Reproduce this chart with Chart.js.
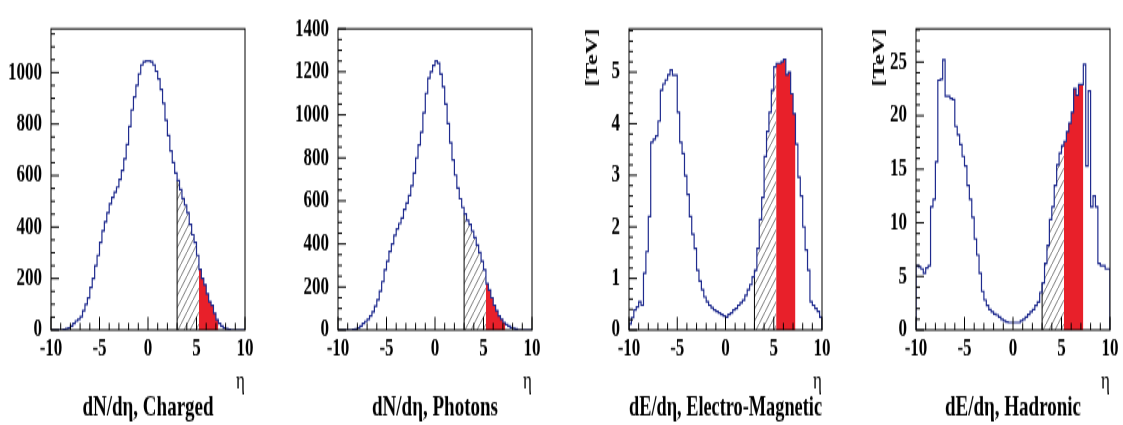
<!DOCTYPE html>
<html>
<head>
<meta charset="utf-8">
<title>dN/dη and dE/dη distributions</title>
<script src="https://cdn.jsdelivr.net/npm/chart.js@4.4.1/dist/chart.umd.min.js"></script>
<style>
    html, body { margin: 0; padding: 0; background: #fff; }
    body { width: 1123px; height: 425px; overflow: hidden; position: relative; }
    /* the reference plots are stretched vertically, so each panel is drawn short and scaled */
    .panel { position: absolute; top: 0; transform: scaleY(1.5); transform-origin: 0 0; }
    .panel canvas { display: block; }
</style>
</head>
<body>
<div class="panel" style="left:1px"><canvas id="chargedChart" width="258" height="284"></canvas></div>
<div class="panel" style="left:288px"><canvas id="photonChart" width="258" height="284"></canvas></div>
<div class="panel" style="left:579px"><canvas id="emChart" width="257" height="284"></canvas></div>
<div class="panel" style="left:866px"><canvas id="hadChart" width="257" height="284"></canvas></div>
<script>
// histogram bins: 80 bins of width 0.25 from eta = -10 to 10
const binLow = -10, binHigh = 10, binWidth = 0.25;
const etaTicks = [-10, -5, 0, 5, 10];

const charged = [0, 0, 0, 0, 0, 3, 5, 8, 15, 25, 35, 42, 52, 75, 100, 125, 165, 200, 250, 290,
    340, 385, 420, 455, 490, 515, 535, 555, 585, 620, 665, 720, 790, 855, 905, 950, 995, 1030, 1042, 1045,
    1045, 1042, 1030, 1005, 975, 935, 880, 815, 755, 695, 650, 610, 580, 545, 510, 485, 455, 410, 370, 340,
    290, 235, 200, 176, 140, 110, 95, 65, 40, 25, 15, 8, 5, 3, 0, 0, 0, 0, 0, 0];
const chargedTicks = [0, 200, 400, 600, 800, 1000];

const photons = [0, 0, 0, 0, 0, 0, 2, 5, 10, 18, 30, 40, 50, 65, 85, 110, 140, 180, 225, 280,
    320, 365, 400, 440, 470, 495, 520, 560, 590, 625, 670, 730, 800, 860, 920, 1010, 1100, 1170, 1200, 1230,
    1250, 1240, 1190, 1130, 1050, 960, 870, 790, 720, 660, 610, 570, 540, 510, 490, 460, 430, 395, 360, 320,
    280, 215, 185, 150, 115, 90, 65, 50, 35, 25, 18, 12, 8, 4, 0, 0, 0, 0, 0, 0];
const photonTicks = [0, 200, 400, 600, 800, 1000, 1200, 1400];

const emEnergy = [0.12, 0.24, 0.39, 0.45, 0.55, 0.48, 1.10, 1.52, 2.2, 3.64, 3.7, 3.76, 4.05, 4.65, 4.77, 4.85, 4.95, 5.04, 4.94, 4.94,
    4.22, 3.64, 3.42, 2.99, 2.63, 2.2, 1.86, 1.58, 1.16, 0.95, 0.78, 0.64, 0.55, 0.48, 0.43, 0.39, 0.36, 0.33, 0.30, 0.27,
    0.25, 0.30, 0.33, 0.39, 0.42, 0.48, 0.53, 0.58, 0.67, 0.78, 0.88, 1.03, 1.16, 1.58, 2.14, 2.57, 3.36, 3.85, 4.22, 4.65,
    5.1, 5.17, 5.17, 5.2, 5.25, 4.95, 5.0, 4.58, 4.19, 3.6, 2.96, 2.6, 2.0, 1.55, 1.16, 0.55, 0.48, 0.42, 0.36, 0.25];
const emTicks = [0, 1, 2, 3, 4, 5];

const hadEnergy = [6.0, 5.9, 5.7, 5.3, 5.8, 6.0, 11.5, 12.2, 15.7, 23.3, 23.4, 25.2, 21.8, 21.8, 21.6, 21.5, 19.0, 18.2, 17.3, 16.2,
    15.3, 13.5, 12.2, 10.5, 8.5, 7.0, 5.3, 3.6, 2.8, 2.3, 1.9, 1.7, 1.5, 1.4, 1.2, 1.0, 0.85, 0.75, 0.7, 0.7,
    0.7, 0.7, 0.7, 0.85, 1.0, 1.2, 1.44, 1.7, 1.9, 2.3, 2.6, 3.5, 4.4, 6.2, 7.9, 10.3, 11.5, 13.5, 15.4, 16.5,
    17.2, 17.6, 18.5, 19.3, 20.3, 22.5, 21.9, 22.9, 22.9, 24.8, 15.3, 22.3, 11.5, 12.5, 11.5, 6.2, 6.0, 6.0, 5.7, 5.7];
const hadTicks = [0, 5, 10, 15, 20, 25];

// shaded acceptance ranges in eta
const hatchFrom = 3, redFrom = 5.25, redTo = 7.25;

const serif = '"Liberation Serif", "Times New Roman", serif';
const lineBlue = '#1f2b8e';
const fillRed = '#e8202a';
const tickFont = { family: serif, size: 17, weight: 'bold' };

function binIndex(eta) {
    return Math.round((eta - binLow) / binWidth);
}

// points at bin left edges, stepped 'before' gives a histogram outline
function stepPoints(values, from, to) {
    const pts = [];
    for (let i = binIndex(from); i < binIndex(to); i++) {
        pts.push({ x: binLow + i * binWidth, y: values[i] });
    }
    pts.push({ x: to, y: 0 });
    return pts;
}

function makeHatch(ctx) {
    const c = document.createElement('canvas');
    c.width = 6; c.height = 8;
    const g = c.getContext('2d');
    g.strokeStyle = '#555';
    g.lineWidth = 0.8;
    g.beginPath();
    g.moveTo(-0.75, 9);
    g.lineTo(6.75, -1);
    g.stroke();
    return ctx.createPattern(c, 'repeat');
}

// ROOT style frame with ticks pointing into the plot
const frameTicks = {
    id: 'frameTicks',
    afterDatasetsDraw(chart, args, opts) {
        const { ctx, chartArea: a, scales: { x, y } } = chart;
        ctx.save();
        ctx.strokeStyle = '#000';
        ctx.lineWidth = 1;
        ctx.beginPath();
        for (let v = Math.ceil(x.min); v <= x.max; v++) {
            const px = x.getPixelForValue(v);
            const len = v % 5 === 0 ? 8.7 : 4.7;
            ctx.moveTo(px, a.bottom);
            ctx.lineTo(px, a.bottom - len);
        }
        const n = Math.floor(y.max / opts.minor + 1e-6);
        for (let k = 0; k <= n; k++) {
            const v = k * opts.minor;
            const r = v / opts.major;
            const len = Math.abs(r - Math.round(r)) < 1e-6 ? 8 : 4;
            const py = y.getPixelForValue(v);
            ctx.moveTo(a.left, py);
            ctx.lineTo(a.left + len, py);
        }
        ctx.stroke();
        ctx.strokeRect(a.left, a.top, a.width, a.height);
        ctx.restore();
    }
};

function drawPanel(id, values, yTicks, cfg) {
    const ctx = document.getElementById(id).getContext('2d');
    const hatch = makeHatch(ctx);
    const edgeValue = values[binIndex(hatchFrom)];

    new Chart(ctx, {
        type: 'line',
        data: {
            datasets: [
                {
                    data: [{ x: binLow, y: 0 }, ...stepPoints(values, binLow, binHigh)],
                    borderColor: lineBlue,
                    borderWidth: 1.2,
                    stepped: true,
                    fill: false
                },
                {
                    data: [{ x: hatchFrom, y: 0 }, { x: hatchFrom, y: edgeValue }],
                    borderColor: '#000',
                    borderWidth: 1,
                    fill: false
                },
                {
                    data: stepPoints(values, hatchFrom, redFrom),
                    borderColor: 'rgba(0,0,0,0)',
                    borderWidth: 0,
                    backgroundColor: hatch,
                    stepped: true,
                    fill: 'origin'
                },
                {
                    data: stepPoints(values, redFrom, redTo),
                    borderColor: 'rgba(0,0,0,0)',
                    borderWidth: 0,
                    backgroundColor: fillRed,
                    stepped: true,
                    fill: 'origin'
                }
            ]
        },
        options: {
            responsive: false,
            animation: false,
            events: [],
            layout: { padding: { top: 10, left: 0, right: cfg.padRight, bottom: 0 } },
            elements: { point: { radius: 0 }, line: { tension: 0 } },
            scales: {
                x: {
                    type: 'linear',
                    min: binLow,
                    max: binHigh,
                    grid: { display: false, drawTicks: false },
                    border: { display: false },
                    afterBuildTicks: s => { s.ticks = etaTicks.map(v => ({ value: v })); },
                    ticks: { padding: 2.5, color: '#000', font: tickFont, callback: v => String(v) },
                    title: { display: true, text: 'η', align: 'end', color: '#000', padding: 0,
                             font: { family: serif, size: 17, lineHeight: 1 } },
                    afterFit: s => { s.height = 43; }
                },
                y: {
                    min: 0,
                    max: cfg.yMax,
                    grid: { display: false, drawTicks: false },
                    border: { display: false },
                    afterBuildTicks: s => { s.ticks = yTicks.map(v => ({ value: v })); },
                    ticks: { padding: 9, color: '#000', font: tickFont, callback: v => String(v) },
                    title: { display: !!cfg.yTitle, text: cfg.yTitle || '', align: 'end', color: '#000',
                             padding: { top: 4, bottom: 0 }, font: { family: serif, size: 16, weight: 'bold' } },
                    afterFit: s => { s.width = 50; }
                }
            },
            plugins: {
                legend: { display: false },
                tooltip: { enabled: false },
                title: {
                    display: true,
                    text: cfg.title,
                    position: 'bottom',
                    fullSize: false,
                    color: '#000',
                    font: { family: serif, size: 19, weight: 'bold', lineHeight: 1 },
                    padding: { top: 0, bottom: 2 }
                },
                frameTicks: { minor: cfg.yMinor, major: cfg.yMajor }
            }
        },
        plugins: [frameTicks]
    });
}

drawPanel('chargedChart', charged, chargedTicks, { title: 'dN/dη, Charged', yMax: 1170, yMajor: 200, yMinor: 50, padRight: 14 });
drawPanel('photonChart', photons, photonTicks, { title: 'dN/dη, Photons', yMax: 1400, yMajor: 200, yMinor: 50, padRight: 14 });
drawPanel('emChart', emEnergy, emTicks, { title: 'dE/dη, Electro-Magnetic', yMax: 5.84, yMajor: 1, yMinor: 0.2, yTitle: '[TeV]', padRight: 14 });
drawPanel('hadChart', hadEnergy, hadTicks, { title: 'dE/dη, Hadronic', yMax: 28.1, yMajor: 5, yMinor: 1, yTitle: '[TeV]', padRight: 13 });
</script>
</body>
</html>
